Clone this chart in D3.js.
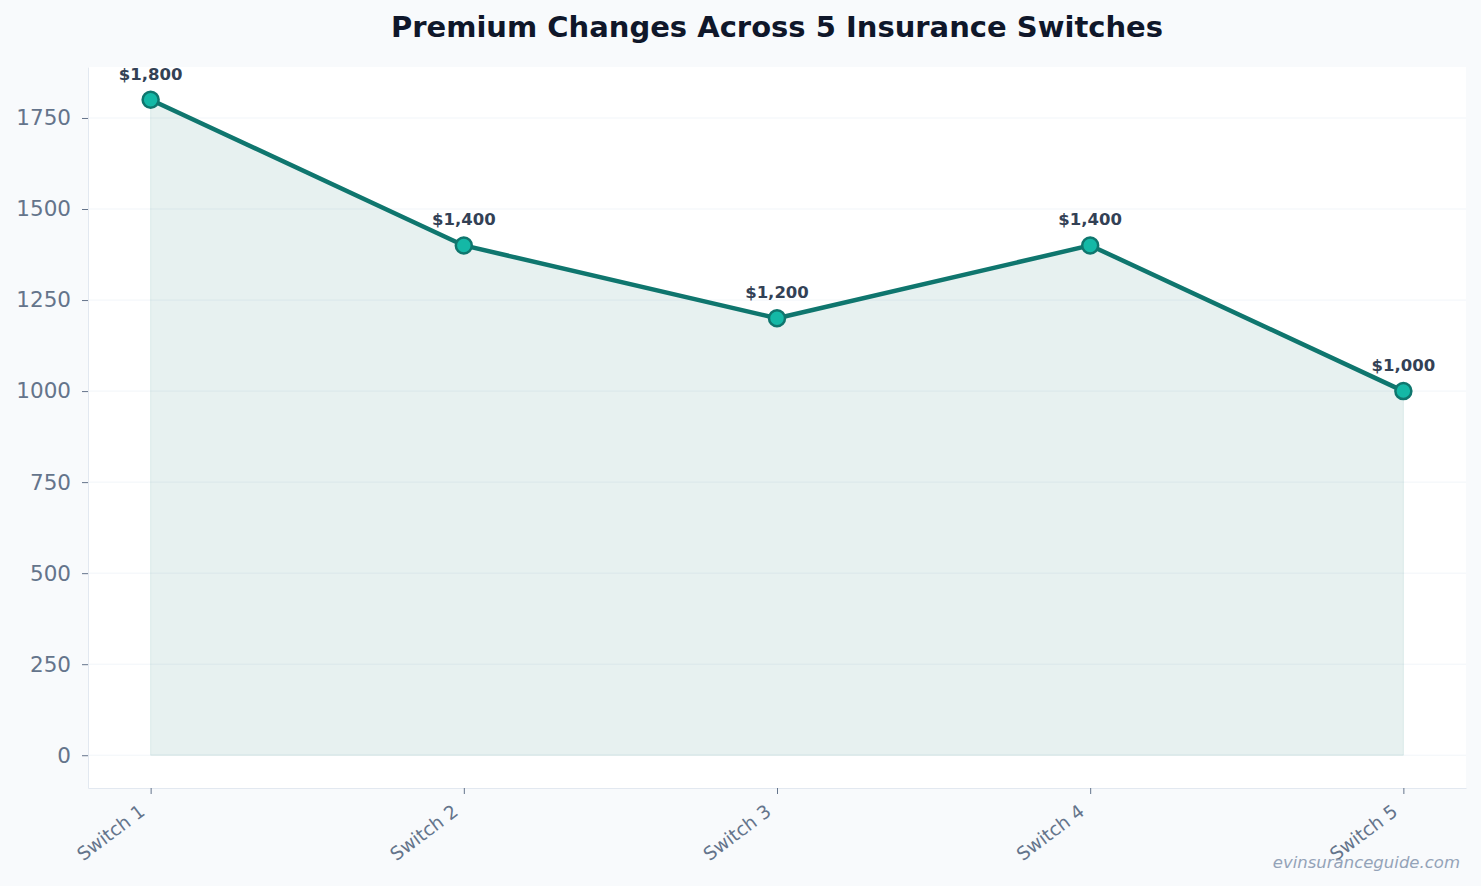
<!DOCTYPE html>
<html><head><meta charset="utf-8">
<script src="https://cdn.jsdelivr.net/npm/d3@7"></script>
<style>
html,body{margin:0;padding:0;background:#f8fafc;}
svg{display:block;font-family:"DejaVu Sans",sans-serif;}
</style></head>
<body><svg id="c" width="1481" height="886"></svg>
<script>
const categories = ["Switch 1","Switch 2","Switch 3","Switch 4","Switch 5"];
const premiums = [1800,1400,1200,1400,1000];
const yTicks = [0,250,500,750,1000,1250,1500,1750];
const title = "Premium Changes Across 5 Insurance Switches";
const watermark = "evinsuranceguide.com";

const W=1481,H=886;
const m={l:88,r:15,t:67,b:98};
const svg=d3.select("#c");
svg.append("rect").attr("width",W).attr("height",H).attr("fill","#f8fafc");
const iw=W-m.l-m.r, ih=H-m.t-m.b;
const g=svg.append("g").attr("transform",`translate(${m.l},${m.t})`);
g.append("rect").attr("width",iw).attr("height",ih).attr("fill","#ffffff");

const x=d3.scaleLinear().domain([-0.2,categories.length-1+0.2]).range([0,iw]);
const y=d3.scaleLinear().domain([-90,1890]).range([ih,0]);

// grid
g.append("g").selectAll("line").data(yTicks).join("line")
 .attr("x1",0).attr("x2",iw).attr("y1",d=>y(d)).attr("y2",d=>y(d))
 .attr("stroke","#f1f5f9").attr("stroke-width",1);

const data=categories.map((c,i)=>({c,i,v:premiums[i]}));
g.append("path").datum(data)
 .attr("d",d3.area().x(d=>x(d.i)).y0(y(0)).y1(d=>y(d.v)))
 .attr("fill","#0f766e").attr("fill-opacity",0.1)
 .attr("stroke","#0f766e").attr("stroke-opacity",0.1).attr("stroke-width",1);
g.append("path").datum(data)
 .attr("d",d3.line().x(d=>x(d.i)).y(d=>y(d.v)))
 .attr("fill","none").attr("stroke","#0f766e").attr("stroke-width",4.5)
 .attr("stroke-linejoin","round").attr("stroke-linecap","round");
g.append("g").selectAll("circle").data(data).join("circle")
 .attr("cx",d=>x(d.i)).attr("cy",d=>y(d.v)).attr("r",8)
 .attr("fill","#14b8a6").attr("stroke","#0f766e").attr("stroke-width",2.5);
g.append("g").selectAll("text").data(data).join("text")
 .attr("x",d=>x(d.i)).attr("y",d=>y(d.v)-20)
 .attr("text-anchor","middle").attr("font-size",16.5).attr("font-weight","bold")
 .attr("fill","#334155").text(d=>"$"+d3.format(",")(d.v));

// axes
const ya=g.append("g").call(d3.axisLeft(y).tickValues(yTicks).tickSize(6).tickSizeOuter(0).tickPadding(11).tickFormat(d3.format("d")));
ya.select(".domain").attr("stroke","#e2e8f0");
ya.selectAll(".tick line").attr("stroke","#64748b");
ya.selectAll(".tick text").attr("fill","#64748b").attr("font-size",21.5).attr("font-family","DejaVu Sans");
const xa=g.append("g").attr("transform",`translate(0,${ih})`)
 .call(d3.axisBottom(x).tickValues(categories.map((c,i)=>i)).tickSize(6).tickSizeOuter(0).tickFormat(i=>categories[i]));
xa.select(".domain").attr("stroke","#e2e8f0");
xa.selectAll(".tick line").attr("stroke","#64748b");
xa.selectAll(".tick text").attr("fill","#64748b").attr("font-size",18.5).attr("font-family","DejaVu Sans")
 .attr("text-anchor","end").attr("dy",null).attr("y",0)
 .attr("transform","translate(-5,26) rotate(-37)");

svg.append("text").attr("x",m.l+iw/2).attr("y",37).attr("text-anchor","middle")
 .attr("font-size",29).attr("font-weight","bold").attr("fill","#0f172a").text(title);
svg.append("text").attr("x",1460).attr("y",868).attr("text-anchor","end")
 .attr("font-size",16.5).attr("font-style","italic").attr("fill","#94a3b8").text(watermark);
</script></body></html>
